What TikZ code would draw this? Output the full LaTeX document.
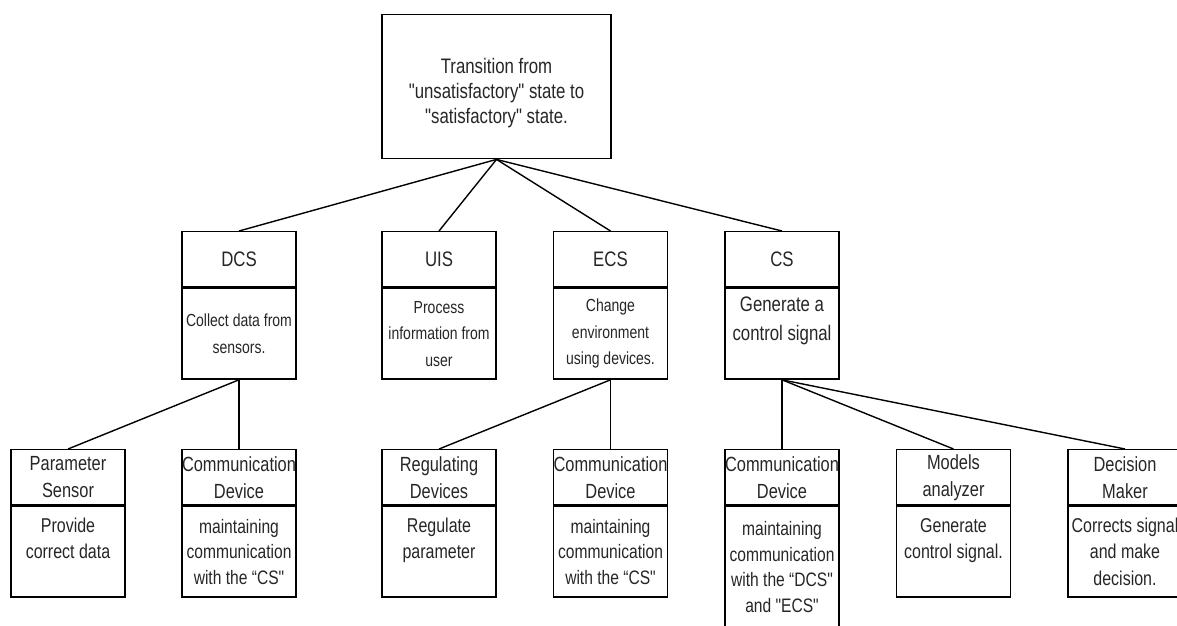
\documentclass[tikz,border=0pt]{standalone}
\usepackage{fontspec}
\setmainfont{Liberation Sans}[FakeStretch=0.8, Ligatures=TeXOff]
\definecolor{txt}{HTML}{262626}
\tikzset{
  box/.style={draw=black, line width=1.4pt, inner sep=0pt, align=center, text=txt, anchor=north},
  topbox/.style={box, minimum width=229pt, minimum height=144pt, font=\fontsize{21}{25}\selectfont},
  hdr/.style={box, minimum width=114pt, minimum height=55pt, font=\fontsize{21}{25}\selectfont},
  bdy/.style={box, minimum width=114pt, minimum height=91pt},
  fsmall/.style={font=\fontsize{17.5}{26.5}\selectfont},
  fmid/.style={font=\fontsize{21}{29}\selectfont},
  bhdr/.style={hdr, font=\fontsize{20.5}{27}\selectfont},
  fbb/.style={font=\fontsize{20}{26.5}\selectfont},
  fbc/.style={font=\fontsize{19.5}{25.5}\selectfont},
  link/.style={draw=black, line width=1.4pt}
}
\begin{document}
\begin{tikzpicture}[x=1pt,y=-1pt]
\clip (0,0) rectangle (1177,625);
% top
\node[topbox] (top) at (496.5,14) {\rule{0pt}{5pt}\\[-3pt]Transition from\\"unsatisfactory" state to\\"satisfactory" state.};
% level 2
\node[hdr] (dcs) at (239,231) {DCS};
\node[bdy,fsmall] (dcsb) at (dcs.south) {Collect data from\\sensors.};
\node[hdr] (uis) at (439,231) {UIS};
\node[bdy,fsmall] (uisb) at (uis.south) {Process\\information from\\user};
\node[hdr] (ecs) at (610.5,231) {ECS};
\node[bdy,fsmall] (ecsb) at (ecs.south) {Change\\environment\\using devices.};
\node[hdr] (cs) at (782,231) {CS};
\node[bdy,fmid] (csb) at (cs.south) {Generate a\\control signal\\\mbox{}};
% level 3
\node[bhdr] (ps) at (68,449) {Parameter\\Sensor};
\node[bdy,fbb] (psb) at (ps.south) {Provide\\correct data\\\mbox{}};
\node[bhdr] (cd1) at (239,449) {Communication\\Device};
\node[bdy,fbc] (cd1b) at (cd1.south) {maintaining\\communication\\with the “CS"};
\node[bhdr] (rd) at (439,449) {Regulating\\Devices};
\node[bdy,fbb] (rdb) at (rd.south) {Regulate\\parameter\\\mbox{}};
\node[bhdr] (cd2) at (610.5,449) {Communication\\Device};
\node[bdy,fbc] (cd2b) at (cd2.south) {maintaining\\communication\\with the “CS"};
\node[bhdr] (cd3) at (782,449) {Communication\\Device};
\node[bdy,fbc,minimum height=122pt] (cd3b) at (cd3.south) {maintaining\\communication\\with the “DCS"\\and "ECS"};
\node[bhdr] (ma) at (953.5,449) {Models\\analyzer};
\node[bdy,fbb] (mab) at (ma.south) {Generate\\control signal.\\\mbox{}};
\node[bhdr] (dm) at (1125,449) {Decision\\Maker};
\node[bdy,fbb] (dmb) at (dm.south) {Corrects signal\\and make\\decision.};
% connectors
\draw[link] (top.south) -- (dcs.north);
\draw[link] (top.south) -- (uis.north);
\draw[link] (top.south) -- (ecs.north);
\draw[link] (top.south) -- (cs.north);
\draw[link] (dcsb.south) -- (ps.north);
\draw[link] (dcsb.south) -- (cd1.north);
\draw[link] (ecsb.south) -- (rd.north);
\draw[link] (ecsb.south) -- (cd2.north);
\draw[link] (csb.south) -- (cd3.north);
\draw[link] (csb.south) -- (ma.north);
\draw[link] (csb.south) -- (dm.north);
\end{tikzpicture}
\end{document}
